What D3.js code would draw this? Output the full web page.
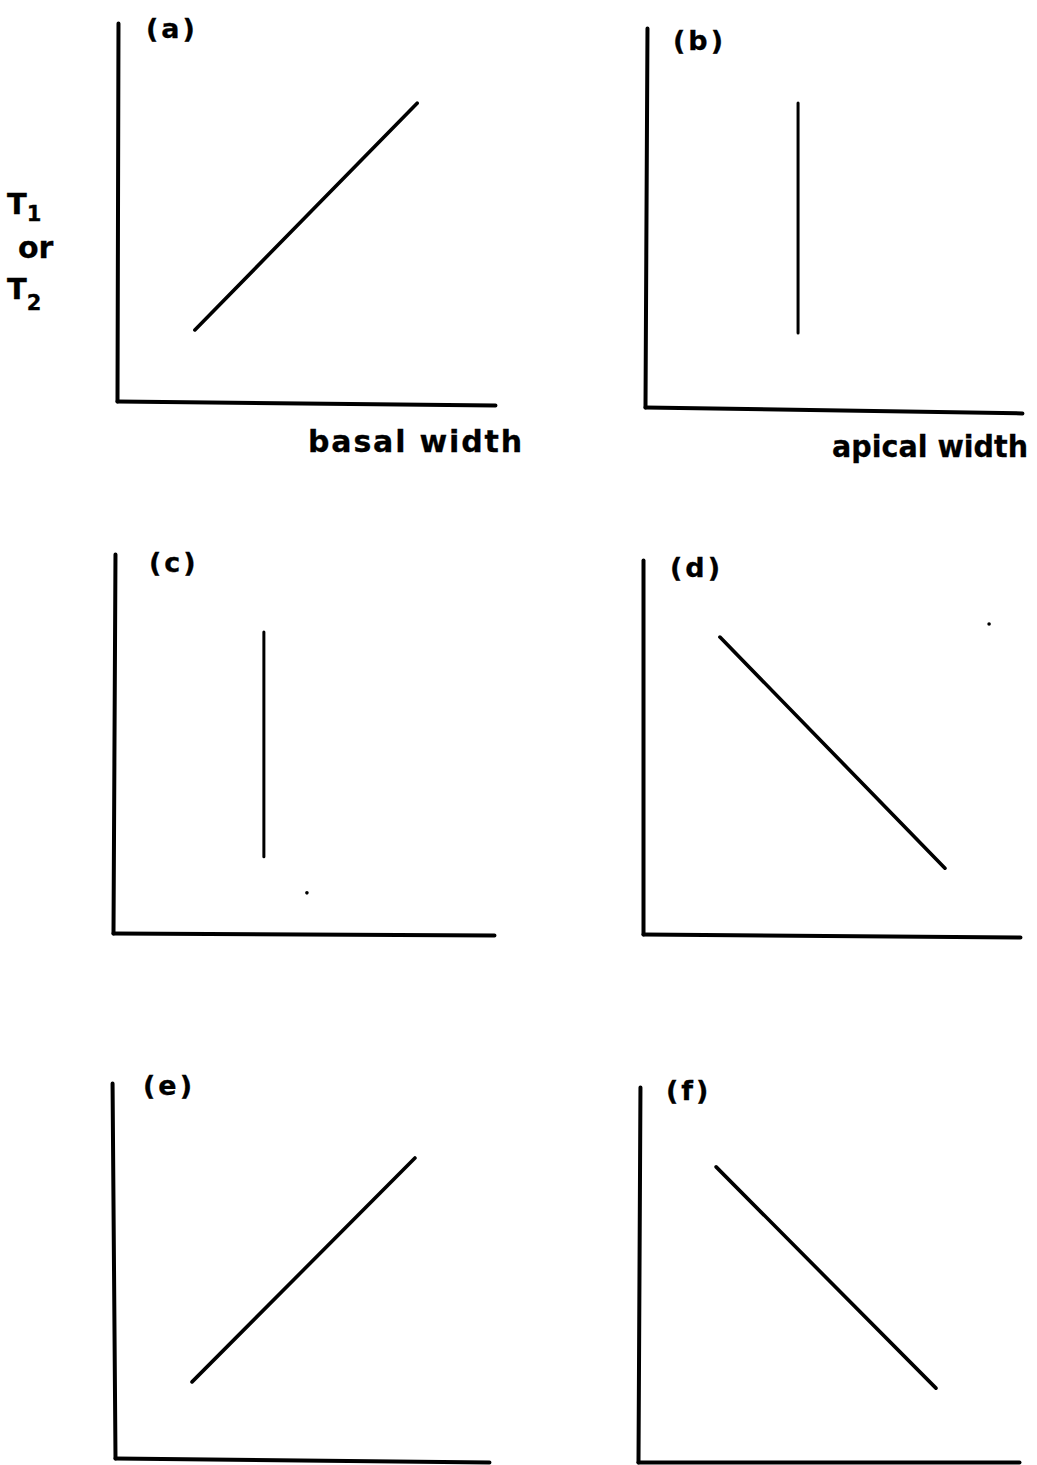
<!DOCTYPE html>
<meta charset="utf-8">
<head>
<title>T1 or T2 against basal and apical width</title>
<script src="https://d3js.org/d3.v7.min.js"></script>
<style>
  body { margin: 0; background: #fff; }
  text { font-family: "DejaVu Sans", sans-serif; fill: #000; font-weight: bold; }
  .lbl { stroke: #000; stroke-width: 0.3; }
</style>
</head>
<body>
<script type="text/javascript">

// panel names and the single trend line in each (axis units 0-10)
var panels = ["(a)", "(b)", "(c)", "(d)", "(e)", "(f)"];
var xStart = [2.06, 4.06, 3.96, 2.04, 2.06, 2.05];
var yStart = [1.88, 1.95, 2.01, 7.94, 2.03, 7.87];
var xEnd   = [7.94, 4.06, 3.96, 8.01, 8.02, 7.82];
var yEnd   = [7.88, 8.02, 7.94, 1.76, 8.00, 1.97];

// x axis titles (only the top row has them)
var xTitles = ["basal width", "apical width", "", "", "", ""];

// small specks printed in panels (c) and (d)
var speckPanel = [2, 3];
var speckX = [5.09, 9.18];
var speckY = [1.06, 8.29];

var domain = [0, 10];

// where each panel sits on the page
var frames = [
  {x0: 117, y0: 401, right: 495,  top: 23,   tiltX: 0.6,  tiltY: 0.15, lx: 30, ly: 15, tx: 308, ty: 452, tw: 214, adj: "spacing"},
  {x0: 645, y0: 407, right: 1022, top: 28,   tiltX: 0.9,  tiltY: 0.3,  lx: 29, ly: 22, tx: 832, ty: 457, tw: 196, adj: "spacingAndGlyphs"},
  {x0: 113, y0: 933, right: 494,  top: 554,  tiltX: 0.3,  tiltY: 0.3,  lx: 37, ly: 18},
  {x0: 643, y0: 934, right: 1020, top: 560,  tiltX: 0.45, tiltY: 0,    lx: 28, ly: 17},
  {x0: 115, y0: 1458, right: 489, top: 1083, tiltX: 0.6,  tiltY: -0.45, lx: 29, ly: 12},
  {x0: 638, y0: 1462, right: 1019, top: 1087, tiltX: 0,   tiltY: 0.3,  lx: 29, ly: 13}
];

var svg = d3.select("body").append("svg")
    .attr("width", 1037)
    .attr("height", 1465);

panels.forEach(function(name, i) {
  var f = frames[i];

  var x = d3.scaleLinear().domain(domain).range([0, f.right - f.x0]);
  var y = d3.scaleLinear().domain(domain).range([0, f.top - f.y0]);

  var g = svg.append("g")
      .attr("transform", "translate(" + f.x0 + "," + f.y0 + ")");

  // plain L shaped axes, no ticks
  g.append("g")
      .attr("transform", "rotate(" + f.tiltX + ")")
      .call(d3.axisBottom(x).ticks(0).tickSizeOuter(0))
      .select(".domain")
        .attr("stroke-width", 4)
        .attr("stroke-linecap", "round");

  g.append("g")
      .attr("transform", "rotate(" + f.tiltY + ")")
      .call(d3.axisLeft(y).ticks(0).tickSizeOuter(0))
      .select(".domain")
        .attr("stroke-width", 4)
        .attr("stroke-linecap", "round");

  // the trend line
  var line = d3.line()
      .x(function(d) { return x(d[0]); })
      .y(function(d) { return y(d[1]); });

  g.append("path")
      .datum([[xStart[i], yStart[i]], [xEnd[i], yEnd[i]]])
      .attr("d", line)
      .attr("fill", "none")
      .attr("stroke", "#000")
      .attr("stroke-width", xStart[i] === xEnd[i] ? 3 : 3.6)
      .attr("stroke-linecap", "round");

  // specks
  speckPanel.forEach(function(p, k) {
    if (p !== i) return;
    g.append("circle")
        .attr("cx", x(speckX[k]))
        .attr("cy", y(speckY[k]))
        .attr("r", 1.8)
        .attr("fill", "#000");
  });

  // panel letter
  g.append("text")
      .attr("class", "lbl")
      .attr("x", f.lx - 1)
      .attr("y", f.top - f.y0 + f.ly)
      .style("font-size", "27px")
      .style("letter-spacing", "3px")
      .text(name);

  if (xTitles[i]) {
    svg.append("text")
        .attr("class", "lbl")
        .attr("x", f.tx)
        .attr("y", f.ty)
        .attr("textLength", f.tw)
        .attr("lengthAdjust", f.adj)
        .style("font-size", "30px")
        .text(xTitles[i]);
  }
});

// y axis title, shared by all panels
var yt = svg.append("g").attr("class", "lbl");
var t1 = yt.append("text").attr("x", 7).attr("y", 214).style("font-size", "29px");
t1.append("tspan").text("T");
t1.append("tspan").attr("dx", 0).attr("dy", 7).style("font-size", "21px").text("1");

yt.append("text").attr("x", 18).attr("y", 258).style("font-size", "30px").text("or");

var t2 = yt.append("text").attr("x", 7).attr("y", 299).style("font-size", "29px");
t2.append("tspan").text("T");
t2.append("tspan").attr("dx", 0).attr("dy", 11).style("font-size", "21px").text("2");

</script>
</body>
